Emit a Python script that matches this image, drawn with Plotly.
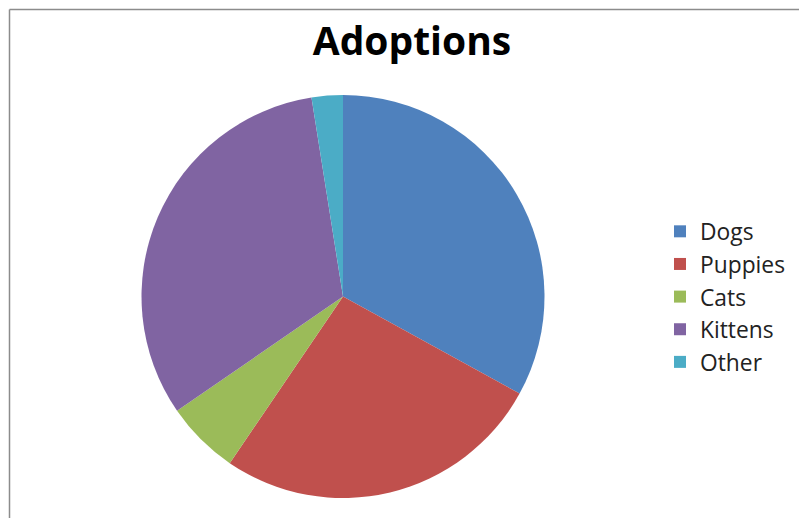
import plotly.graph_objects as go

W, H = 799, 518

categories = ["Dogs", "Puppies", "Cats", "Kittens", "Other"]
values = [33.0, 26.5, 5.9, 32.1, 2.5]
colors = ["#4F81BD", "#C0504D", "#9BBB59", "#8064A2", "#4BACC6"]

cx, cy, r = 343, 296.5, 201.5

fig = go.Figure(go.Pie(
    labels=categories,
    values=values,
    marker=dict(colors=colors, line=dict(width=0)),
    sort=False,
    direction="clockwise",
    rotation=0,
    textinfo="none",
    domain=dict(x=[(cx - r) / W, (cx + r) / W], y=[1 - (cy + r) / H, 1 - (cy - r) / H]),
))

fig.update_layout(
    width=W, height=H,
    margin=dict(l=0, r=0, t=0, b=0),
    paper_bgcolor="white",
    plot_bgcolor="white",
    title=dict(text="<b>Adoptions</b>", x=412 / W, xanchor="center", y=1 - 55 / H, yanchor="bottom",
               font=dict(family="Open Sans, sans-serif", size=39, color="black")),
    legend=dict(x=660 / W, y=1 - 210 / H, xanchor="left", yanchor="top",
                font=dict(family="Open Sans, sans-serif", size=22.8, color="#222"),
                tracegroupgap=0, itemwidth=30),
    shapes=[
        dict(type="line", xref="paper", yref="paper", x0=9.5 / W, x1=1.05, y0=1 - 9.5 / H, y1=1 - 9.5 / H,
             line=dict(color="#8C8C8C", width=1.5)),
        dict(type="line", xref="paper", yref="paper", x0=9.5 / W, x1=9.5 / W, y0=-0.05, y1=1 - 9.5 / H,
             line=dict(color="#8C8C8C", width=1.5)),
    ],
)

fig.write_html("out.html", config={"displayModeBar": False},
               post_script="document.body.style.margin='0';document.body.style.overflow='hidden';")
